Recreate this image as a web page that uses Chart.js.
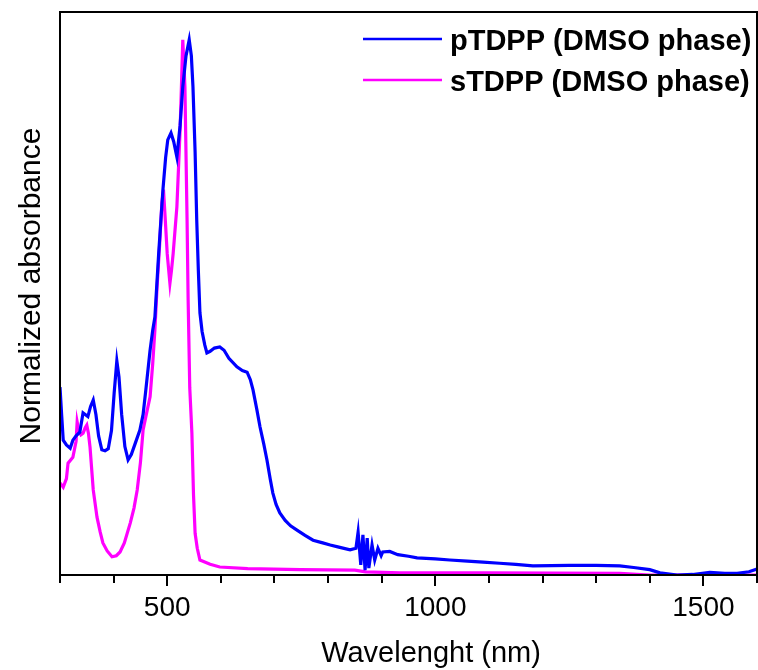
<!DOCTYPE html>
<html>
<head>
<meta charset="utf-8">
<script src="https://cdn.jsdelivr.net/npm/chart.js@4.4.1/dist/chart.umd.min.js"></script>
<style>
    html, body { margin: 0; padding: 0; background: #fff; }
    #chart { display: block; }
</style>
</head>
<body>
<canvas id="chart" width="758" height="670"></canvas>
<script>
// Wavelengths (nm) and normalized absorbance
const pWavelengths = [300, 303, 306, 312, 319, 324, 330, 337, 343, 347, 352, 357, 362, 367, 372, 378, 384, 390, 396, 401,
    406, 410, 415, 421, 427, 433, 440, 449, 455, 460, 468, 473, 477, 484, 492, 497, 501, 507, 512, 518,
    524, 529, 535, 541, 545, 548, 552, 555, 558, 561, 565, 570, 574, 580, 588, 598, 606, 615, 630, 640,
    649, 655, 660, 667, 673, 680, 686, 692, 697, 703, 710, 720, 730, 742, 757, 772, 790, 804, 820, 841,
    852, 856, 861, 865, 869, 873, 876, 882, 887, 893, 899, 902, 915, 930, 950, 966, 1000, 1027, 1060, 1089,
    1120, 1150, 1182, 1250, 1300, 1344, 1370, 1400, 1419, 1451, 1480, 1512, 1540, 1563, 1585, 1600];
const pAbsorbance = [0.351, 0.30, 0.252, 0.243, 0.237, 0.252, 0.26, 0.267, 0.303, 0.30, 0.296, 0.315, 0.327, 0.30, 0.26, 0.234, 0.232, 0.236, 0.27, 0.34,
    0.40, 0.37, 0.30, 0.24, 0.215, 0.225, 0.245, 0.271, 0.30, 0.345, 0.42, 0.458, 0.482, 0.60, 0.72, 0.78, 0.813, 0.826, 0.81, 0.781,
    0.84, 0.912, 0.97, 1.0, 0.97, 0.912, 0.79, 0.664, 0.57, 0.49, 0.455, 0.43, 0.415, 0.418, 0.424, 0.426, 0.42, 0.405, 0.389, 0.382,
    0.379, 0.365, 0.346, 0.31, 0.277, 0.245, 0.215, 0.18, 0.153, 0.132, 0.116, 0.102, 0.092, 0.084, 0.074, 0.065, 0.06, 0.056, 0.052, 0.047,
    0.05, 0.08, 0.019, 0.075, 0.009, 0.069, 0.013, 0.056, 0.028, 0.05, 0.036, 0.043, 0.044, 0.038, 0.035, 0.032, 0.03, 0.028, 0.026, 0.024,
    0.022, 0.02, 0.017, 0.018, 0.018, 0.017, 0.014, 0.01, 0.004, 0.0, 0.001, 0.005, 0.003, 0.003, 0.006, 0.011];

const sWavelengths = [300, 306, 312, 315, 324, 330, 332, 335, 339, 343, 347, 350, 353, 356, 362, 369, 375, 380, 388, 397,
    405, 412, 420, 431, 438, 444, 450, 455, 461, 468, 473, 477, 481, 486, 490, 493, 496, 500, 505, 508,
    511, 518, 524, 527, 529, 533, 537, 539, 542, 546, 549, 552, 556, 561, 580, 598, 650, 748, 850, 870,
    934, 1100, 1344, 1400, 1600];
const sAbsorbance = [0.172, 0.164, 0.18, 0.209, 0.22, 0.25, 0.286, 0.27, 0.262, 0.265, 0.275, 0.28, 0.265, 0.239, 0.159, 0.108, 0.08, 0.06, 0.045, 0.034,
    0.036, 0.043, 0.06, 0.097, 0.125, 0.159, 0.21, 0.271, 0.30, 0.333, 0.396, 0.458, 0.538, 0.62, 0.695, 0.72, 0.67, 0.60, 0.545, 0.57,
    0.60, 0.688, 0.832, 0.93, 1.0, 0.912, 0.664, 0.514, 0.35, 0.265, 0.15, 0.078, 0.05, 0.028, 0.02, 0.015, 0.012, 0.01, 0.009, 0.006,
    0.004, 0.004, 0.003, 0.0, 0.0];

const seriesLabels = ['pTDPP (DMSO phase)', 'sTDPP (DMSO phase)'];
const seriesColors = ['#0000ff', '#ff00ff'];
const xMin = 300, xMax = 1600, yMin = 0, yMax = 1.052;

const FONT = '"Liberation Sans", Arial, sans-serif';

function toPoints(xs, ys) {
    return xs.map((x, i) => ({ x: x, y: ys[i] }));
}

// Frame, longer major ticks, axis titles and legend
const decorations = {
    id: 'decorations',
    afterDraw(chart) {
        const ctx = chart.ctx;
        const area = chart.chartArea;
        const xs = chart.scales.x;
        ctx.save();

        // box around the plot
        ctx.strokeStyle = '#000';
        ctx.lineWidth = 2;
        ctx.strokeRect(area.left, area.top, area.right - area.left, area.bottom - area.top);

        // major ticks a bit longer
        for (let v = 500; v <= xMax; v += 500) {
            const px = Math.round(xs.getPixelForValue(v));
            ctx.beginPath();
            ctx.moveTo(px, area.bottom);
            ctx.lineTo(px, area.bottom + 11);
            ctx.stroke();
        }

        // axis titles
        ctx.fillStyle = '#000';
        ctx.font = '29px ' + FONT;
        ctx.textAlign = 'center';
        ctx.textBaseline = 'alphabetic';
        ctx.fillText('Wavelenght (nm)', 431, 662);

        ctx.save();
        ctx.translate(40, 286);
        ctx.rotate(-Math.PI / 2);
        ctx.font = '30px ' + FONT;
        ctx.fillText('Normalized absorbance', 0, 0);
        ctx.restore();

        // legend
        ctx.font = 'bold 29px ' + FONT;
        ctx.textAlign = 'left';
        seriesLabels.forEach((label, i) => {
            const y = 39 + i * 41;
            ctx.strokeStyle = seriesColors[i];
            ctx.lineWidth = 2.5;
            ctx.beginPath();
            ctx.moveTo(363, y);
            ctx.lineTo(442, y);
            ctx.stroke();
            ctx.fillStyle = '#000';
            ctx.fillText(label, 450, y + 11);
        });

        ctx.restore();
    }
};

new Chart(document.getElementById('chart'), {
    type: 'line',
    data: {
        datasets: [
            {
                label: seriesLabels[0],
                data: toPoints(pWavelengths, pAbsorbance),
                borderColor: seriesColors[0],
                borderWidth: 3.2,
                pointRadius: 0,
                tension: 0
            },
            {
                label: seriesLabels[1],
                data: toPoints(sWavelengths, sAbsorbance),
                borderColor: seriesColors[1],
                borderWidth: 3.2,
                pointRadius: 0,
                tension: 0
            }
        ]
    },
    options: {
        responsive: false,
        animation: false,
        layout: { padding: { top: 12, right: 1, left: 0, bottom: 0 } },
        plugins: {
            legend: { display: false },
            tooltip: { enabled: false }
        },
        scales: {
            x: {
                type: 'linear',
                min: xMin,
                max: xMax,
                afterFit: (scale) => {
                    scale.height = 95;
                    scale.paddingLeft = 0;
                    scale.paddingRight = 0;
                },
                border: { display: false },
                grid: {
                    display: true,
                    drawOnChartArea: false,
                    drawTicks: true,
                    tickLength: 8,
                    color: '#000',
                    lineWidth: 2
                },
                ticks: {
                    stepSize: 100,
                    autoSkip: false,
                    maxRotation: 0,
                    padding: 8,
                    color: '#000',
                    font: { family: FONT, size: 28 },
                    callback: (v) => (v % 500 === 0 ? v : '')
                }
            },
            y: {
                min: yMin,
                max: yMax,
                afterFit: (scale) => { scale.width = 60; },
                border: { display: false },
                grid: { display: false },
                ticks: { display: false }
            }
        }
    },
    plugins: [decorations]
});
</script>
</body>
</html>
